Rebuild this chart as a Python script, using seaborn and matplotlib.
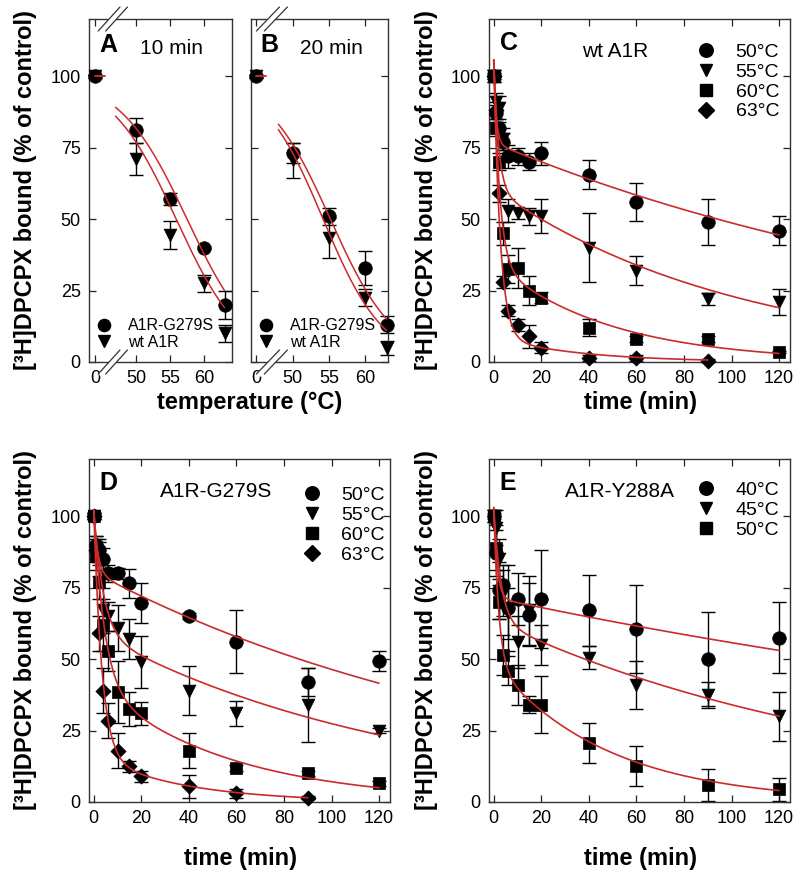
import numpy as np
import pandas as pd
import matplotlib
matplotlib.use("Agg")
import matplotlib.pyplot as plt
import matplotlib.transforms as mtransforms
from matplotlib.lines import Line2D
import seaborn as sns

sns.set_style("ticks")
plt.rcParams['font.family'] = ['Liberation Sans', 'DejaVu Sans']
plt.rcParams.update({'text.color': 'black', 'axes.labelcolor': 'black',
                     'xtick.color': 'black', 'ytick.color': 'black'})

RED = '#cc2b2b'

# ---- panels A/B: temperature series (10 min / 20 min) ----
temps = [0, 50, 55, 60, 63]
a_g279s = [100, 81, 57, 40, 20]
a_g279s_err = [0.5, 4.5, 2, 0.5, 5]
a_wt = [100, 71, 44.5, 27.5, 10]
a_wt_err = [0.5, 5.5, 5, 3, 3]
b_g279s = [100, 73, 51, 33, 13]
b_g279s_err = [0.5, 3.5, 3, 6, 3]
b_wt = [100, 70.5, 43.5, 22.5, 5]
b_wt_err = [0.5, 6, 7, 3, 2.5]
# sigmoid fits (Tm, slope)
a_fit_g279s = [57.5, 5.0]
a_fit_wt = [55.9, 4.9]
b_fit_g279s = [55.2, 4.5]
b_fit_wt = [54.2, 4.22]

# ---- panels C/D/E: time courses ----
time_pts = [0, 1, 2, 4, 6, 10, 15, 20, 40, 60, 90, 120]
time_pts_90 = [0, 1, 2, 4, 6, 10, 15, 20, 40, 60, 90]

c_50 = [100, 87, 82, 77, 72, 72, 70, 73, 65.5, 56, 49, 46]
c_50_err = [2, 3, 2, 3, 4, 3, 3, 4, 5, 6.5, 8, 5]
c_55 = [100, 91, 89, 78, 53, 52, 51, 51, 40, 32, 22, 21]
c_55_err = [1, 3, 4, 4, 4, 2, 3, 6, 12, 5, 2, 4.5]
c_60 = [100, 82, 70, 45, 32.5, 33, 25, 22.5, 12, 8, 8, 3.5]
c_60_err = [2, 3, 3, 4, 5, 7, 5, 2, 3, 1, 1, 0.5]
c_63 = [100, 88, 59, 28, 18, 13, 9, 5, 1.5, 1.5, 0.5]
c_63_err = [1, 3, 3, 2, 2, 2, 4, 2, 1, 1, 0.5]

d_50 = [100, 90, 88, 85, 80, 80, 76.5, 69.5, 65, 56, 42, 49.5]
d_50_err = [1, 3, 4, 4, 3, 2, 5, 7, 1, 11, 5, 3.5]
d_55 = [100, 89, 85, 67, 65, 61, 57, 49, 39, 31, 34, 25]
d_55_err = [1, 4, 6, 8, 5, 8, 7, 9, 8.5, 4.5, 13, 1]
d_60 = [100, 86, 77, 62, 53, 38.5, 32.5, 31, 18, 12, 10, 6.5]
d_60_err = [1, 5, 6, 9, 7, 11, 6, 4, 6, 1, 1, 1]
d_63 = [100, 88, 59, 39, 28.5, 18, 12.5, 9, 5.5, 3, 1.5]
d_63_err = [1, 4, 6, 8, 6, 6, 2, 2, 4, 1.5, 0.5]

e_40 = [100, 87, 74, 76, 68, 71, 65.5, 71, 67, 60.5, 50, 57.5]
e_40_err = [2, 8, 10, 7, 15, 9, 11, 17, 12.5, 15.5, 16.5, 12.5]
e_45 = [100, 96, 85, 73, 66, 56, 67, 55, 50.5, 41, 37.5, 30]
e_45_err = [2, 6, 7, 8, 9, 9, 12, 7, 4, 8.5, 4.5, 8.5]
e_50 = [100, 89, 70, 51.5, 46, 41, 34, 34, 20.5, 12.5, 6, 4.5]
e_50_err = [1, 8, 6, 7, 5, 7, 3, 10, 7, 7, 5.5, 4]

# bi-exponential fits (A_fast, k_fast, A_slow, k_slow)
c_fits = [[29, 1.0, 76.7, 0.00455], [45, 0.5, 60.6, 0.00967],
          [71, 0.4, 34.6, 0.0204], [97, 0.37, 8.75, 0.028]]
d_fits = [[21.6, 0.6, 80.4, 0.0055], [42.5, 0.25, 59.5, 0.00775],
          [60.8, 0.22, 41.2, 0.0176], [86, 0.29, 16.1, 0.0264]]
e_fits = [[31.5, 0.7, 71.5, 0.00249], [39.5, 0.33, 63.5, 0.00624],
          [54.5, 0.47, 48.5, 0.0208]]

W, H = 800, 877
fig = plt.figure(figsize=(W / 100, H / 100), dpi=100)


def add_ax(left, right, top, bottom):
    return fig.add_axes([left / W, 1 - bottom / H, (right - left) / W, (bottom - top) / H])


def style_ax(ax):
    ax.set_ylim(0, 120)
    ax.set_yticks([0, 25, 50, 75, 100])
    ax.tick_params(direction='in', top=True, right=True, length=5, width=0.9,
                   labelsize=13, pad=6, colors='#222222', labelcolor='black')
    for sp in ax.spines.values():
        sp.set_linewidth(1.0)
        sp.set_color('#333333')
    ax.set_xlabel('')
    ax.set_ylabel('')


def draw_series(ax, x, y, err, marker, size):
    ax.errorbar(x, y, yerr=err, fmt='none', ecolor='black', elinewidth=1,
                capsize=5, capthick=1, zorder=2, clip_on=False)
    sns.scatterplot(x=x, y=y, marker=marker, s=size, color='black',
                    edgecolor='black', linewidth=0.5, ax=ax, zorder=3, clip_on=False)


def biexp(t, a1, k1, a2, k2):
    return a1 * np.exp(-k1 * t) + a2 * np.exp(-k2 * t)


def sigmoid(T, tm, s):
    return 100 / (1 + np.exp((T - tm) / s))


MARKERS = ['o', 'v', 's', 'D']
SIZES = [95, 85, 75, 60]


def time_panel(ax, series, fits, labels, letter, title, title_x, leg_anchor):
    for i, (t, y, err) in enumerate(series):
        draw_series(ax, t, y, err, MARKERS[i], SIZES[i])
        tt = np.linspace(0, max(t), 500)
        df = pd.DataFrame({'t': tt, 'y': biexp(tt, *fits[i])})
        sns.lineplot(data=df, x='t', y='y', ax=ax, color=RED, lw=1.2, zorder=4)
    style_ax(ax)
    ax.set_xlim(-2, 124.6)
    ax.set_xticks([0, 20, 40, 60, 80, 100, 120])
    ax.text(0.035, 0.93, letter, transform=ax.transAxes, fontsize=18,
            fontweight='bold', va='center', ha='left')
    ax.text(title_x, 0.905, title, transform=ax.transAxes, fontsize=15,
            va='center', ha='left')
    handles = [Line2D([], [], marker=MARKERS[i], color='black', ls='none',
                      markersize=np.sqrt(SIZES[i])) for i in range(len(labels))]
    ax.legend(handles, labels, loc='upper left', bbox_to_anchor=leg_anchor,
              frameon=False, fontsize=14, handlelength=1.0, handletextpad=1.0,
              labelspacing=0.12, borderpad=0, borderaxespad=0)


def temp_panel(ax, zero_pos, xlim, brk, ys, errs, fits, letter, title, curve_start):
    def pos(T):
        T = np.asarray(T, dtype=float)
        return np.where(T < 40, T + zero_pos, T)
    for i, (y, err) in enumerate(zip(ys, errs)):
        draw_series(ax, pos(temps), y, err, MARKERS[i], SIZES[i])
        low = np.linspace(0, 1.4, 20)
        high = np.linspace(curve_start, 63, 300)
        for seg in (low, high):
            df = pd.DataFrame({'x': pos(seg), 'y': sigmoid(seg, *fits[i])})
            sns.lineplot(data=df, x='x', y='y', ax=ax, color=RED, lw=1.1, zorder=4)
    style_ax(ax)
    ax.set_xlim(*xlim)
    ax.set_xticks([zero_pos, 50, 55, 60])
    ax.set_xticklabels(['0', '50', '55', '60'])
    ax.text(0.07, 0.924, letter, transform=ax.transAxes, fontsize=18,
            fontweight='bold', va='center', ha='left')
    ax.text(0.357, 0.915, title, transform=ax.transAxes, fontsize=15,
            va='center', ha='left')
    # axis break marks
    trans = mtransforms.blended_transform_factory(ax.transData, ax.transAxes)
    for y0 in (0, 1):
        ax.plot([brk - 1.6, brk + 1.6], [y0 - 0.035, y0 + 0.035], color='white',
                lw=4, transform=trans, clip_on=False, zorder=6)
        for off in (-0.55, 0.55):
            ax.plot([brk + off - 1.6, brk + off + 1.6], [y0 - 0.035, y0 + 0.035],
                    color='#333333', lw=0.9, transform=trans, clip_on=False, zorder=7)
    handles = [Line2D([], [], marker=MARKERS[i], color='black', ls='none',
                      markersize=np.sqrt(SIZES[i]) * 0.9) for i in range(2)]
    ax.legend(handles, ['A1R-G279S', 'wt A1R'], loc='lower left',
              bbox_to_anchor=(0.05, 0.035), frameon=False, fontsize=11.5,
              handlelength=1.0, handletextpad=1.0, labelspacing=0.1,
              borderpad=0, borderaxespad=0, labelcolor='black')


ax_a = add_ax(89, 232, 19, 362)
temp_panel(ax_a, 44.0, (43.1, 64.1), 46.6, [a_g279s, a_wt], [a_g279s_err, a_wt_err],
           [a_fit_g279s, a_fit_wt], 'A', '10 min', 47.0)

ax_b = add_ax(251, 388, 19, 362)
temp_panel(ax_b, 44.9, (44.2, 63.2), 47.1, [b_g279s, b_wt], [b_g279s_err, b_wt_err],
           [b_fit_g279s, b_fit_wt], 'B', '20 min', 48.0)
ax_b.set_yticklabels([])

ax_c = add_ax(489, 790, 19, 362)
time_panel(ax_c, [(time_pts, c_50, c_50_err), (time_pts, c_55, c_55_err),
                  (time_pts, c_60, c_60_err), (time_pts_90, c_63, c_63_err)],
           c_fits, ['50°C', '55°C', '60°C', '63°C'], 'C', 'wt A1R', 0.31,
           (0.69, 0.93))

ax_d = add_ax(89, 390, 459, 802)
time_panel(ax_d, [(time_pts, d_50, d_50_err), (time_pts, d_55, d_55_err),
                  (time_pts, d_60, d_60_err), (time_pts_90, d_63, d_63_err)],
           d_fits, ['50°C', '55°C', '60°C', '63°C'], 'D', 'A1R-G279S', 0.236,
           (0.708, 0.92))

ax_e = add_ax(489, 790, 459, 802)
time_panel(ax_e, [(time_pts, e_40, e_40_err), (time_pts, e_45, e_45_err),
                  (time_pts, e_50, e_50_err)],
           e_fits, ['40°C', '45°C', '50°C'], 'E', 'A1R-Y288A', 0.252,
           (0.69, 0.935))

ylab = '[³H]DPCPX bound (% of control)'
for xpx, ypx in [(26, 190), (426, 190), (26, 630), (426, 630)]:
    fig.text(xpx / W, 1 - ypx / H, ylab, rotation=90, fontsize=17,
             fontweight='bold', ha='center', va='center', color='black')

for txt, xpx, ypx in [('temperature (°C)', 250, 402), ('time (min)', 640, 402),
                      ('time (min)', 240, 858), ('time (min)', 640, 858)]:
    fig.text(xpx / W, 1 - ypx / H, txt, fontsize=17, fontweight='bold',
             ha='center', va='center', color='black')

fig.savefig('out.png', dpi=100)
